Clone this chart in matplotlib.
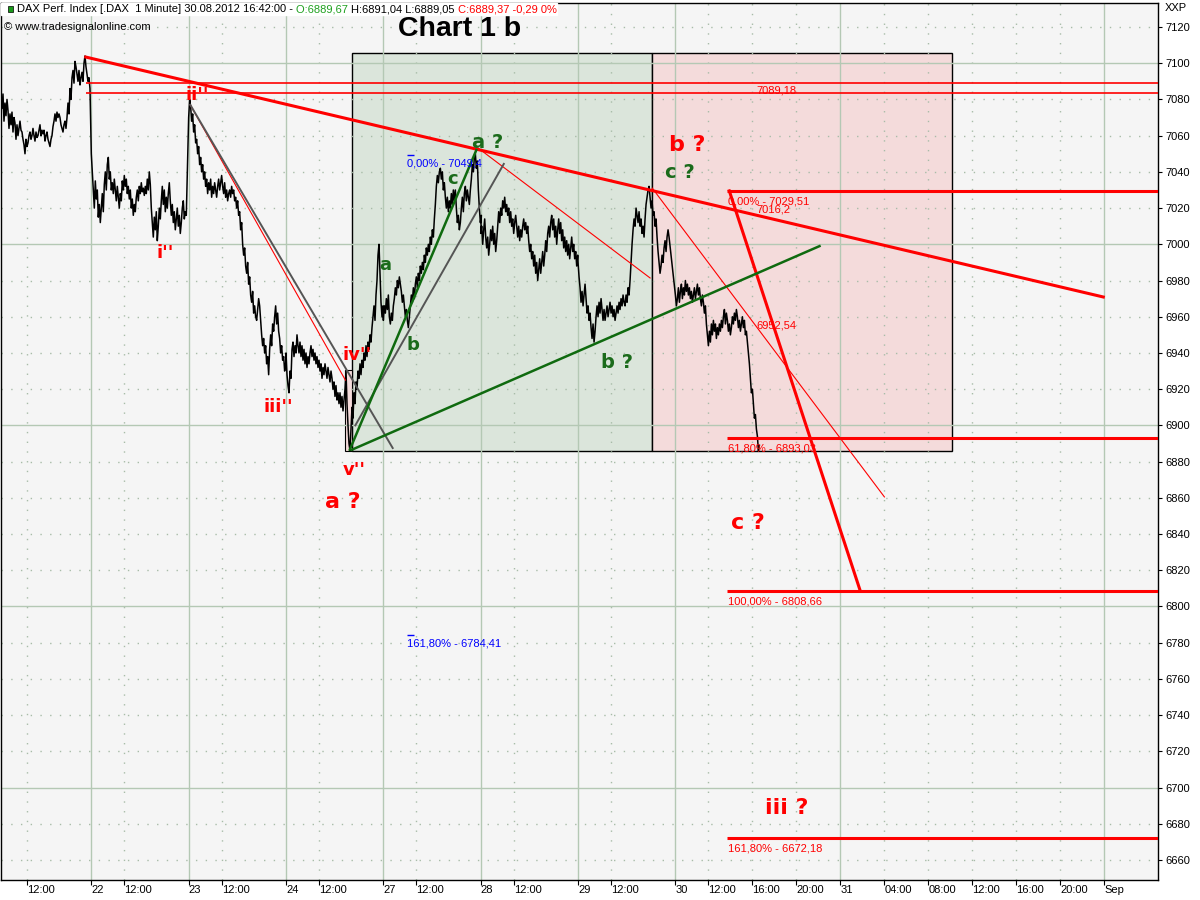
import numpy as np
import matplotlib
matplotlib.use('Agg')
import matplotlib.pyplot as plt
from matplotlib.patches import Rectangle

# ---- price data (DAX 1 minute, one value every ~5.5 min) ----
day_start = [0.09, 8.3, 17.15, 26.0, 34.85, 43.7, 52.55, 61.4]   # session start (chart hours)
step = 1 / 11.0

day21 = [7082, 7075, 7083, 7068, 7078, 7071, 7080, 7074, 7064, 7072,
         7066, 7073, 7062, 7070, 7067, 7058, 7066, 7060, 7064, 7068,
         7063, 7062, 7058, 7055, 7050, 7058, 7054, 7056, 7060, 7062,
         7058, 7060, 7064, 7060, 7057, 7062, 7059, 7060, 7063, 7066,
         7060, 7063, 7061, 7063, 7057, 7060, 7062, 7058, 7056, 7054,
         7058, 7060, 7065, 7068, 7072, 7068, 7073, 7070, 7072, 7070,
         7066, 7064, 7062, 7066, 7068, 7064, 7070, 7078, 7072, 7086,
         7080, 7092, 7096, 7089, 7101, 7098, 7094, 7090, 7096, 7088,
         7092, 7095, 7090, 7100, 7104, 7098, 7094, 7090, 7092, 7086]
day22 = [7050, 7040, 7030, 7020, 7035, 7025, 7030, 7015, 7022, 7012,
         7020, 7028, 7018, 7033, 7040, 7030, 7044, 7048, 7036, 7040,
         7030, 7034, 7028, 7036, 7030, 7024, 7032, 7026, 7020, 7028,
         7024, 7035, 7030, 7038, 7032, 7036, 7028, 7032, 7025, 7030,
         7020, 7025, 7016, 7022, 7018, 7026, 7030, 7024, 7032, 7028,
         7034, 7029, 7031, 7027, 7032, 7028, 7036, 7030, 7040, 7033,
         7020, 7012, 7004, 7015, 7008, 7018, 7002, 7010, 7020, 7014,
         7024, 7032, 7022, 7030, 7018, 7026, 7020, 7028, 7034, 7024,
         7016, 7022, 7012, 7018, 7008, 7014, 7020, 7010, 7016, 7006,
         7012, 7020, 7024, 7014, 7018, 7016]
day23 = [7070, 7080, 7076, 7068, 7072, 7062, 7066, 7056, 7058, 7050,
         7054, 7044, 7048, 7040, 7044, 7036, 7040, 7032, 7036, 7028,
         7034, 7030, 7036, 7026, 7032, 7028, 7034, 7030, 7026, 7032,
         7036, 7030, 7034, 7038, 7032, 7028, 7034, 7026, 7030, 7024,
         7028, 7030, 7026, 7032, 7028, 7030, 7024, 7026, 7020, 7024,
         7016, 7018, 7008, 7012, 7000, 6994, 6998, 6988, 6984, 6990,
         6978, 6982, 6972, 6968, 6974, 6962, 6966, 6960, 6958, 6964,
         6970, 6966, 6958, 6950, 6944, 6948, 6940, 6944, 6934, 6938,
         6928, 6942, 6950, 6944, 6956, 6952, 6960, 6966, 6956, 6962,
         6952, 6948, 6940, 6944, 6936, 6938, 6930, 6934]
day24 = [6940, 6928, 6922, 6918, 6930, 6926, 6942, 6946, 6938, 6944,
         6940, 6950, 6944, 6940, 6946, 6938, 6944, 6936, 6942, 6934,
         6940, 6932, 6938, 6934, 6940, 6944, 6938, 6942, 6936, 6940,
         6934, 6938, 6932, 6936, 6930, 6934, 6926, 6932, 6928, 6934,
         6930, 6926, 6932, 6928, 6924, 6930, 6926, 6920, 6924, 6916,
         6922, 6914, 6918, 6912, 6918, 6910, 6916, 6908, 6914, 6920,
         6930, 6912, 6900, 6890, 6886, 6898, 6910, 6904, 6918, 6912,
         6924, 6920, 6930, 6926, 6934, 6928, 6936, 6932, 6940, 6936,
         6944, 6938, 6946, 6942, 6950, 6946, 6954, 6960, 6966, 6958,
         6972, 6980, 6994, 7000, 6984, 6968, 6960, 6966]
day27 = [6958, 6966, 6962, 6970, 6964, 6972, 6960, 6956, 6962, 6958,
         6966, 6970, 6976, 6972, 6980, 6976, 6982, 6978, 6974, 6968,
         6972, 6966, 6960, 6964, 6958, 6954, 6960, 6966, 6972, 6968,
         6976, 6970, 6978, 6982, 6976, 6984, 6980, 6988, 6984, 6990,
         6986, 6994, 6990, 6998, 6994, 7000, 6996, 7004, 7000, 7008,
         7004, 7014, 7022, 7032, 7038, 7034, 7040, 7042, 7036, 7040,
         7030, 7034, 7026, 7020, 7026, 7018, 7024, 7020, 7028, 7022,
         7030, 7024, 7030, 7020, 7012, 7016, 7008, 7012, 7020, 7026,
         7018, 7028, 7032, 7024, 7030, 7026, 7022, 7030, 7036, 7044,
         7040, 7048, 7050, 7042, 7046, 7030, 7020, 7012, 7016]
day28 = [7006, 7010, 7000, 7008, 7014, 7004, 6998, 7004, 6994, 7000,
         7008, 7002, 7010, 7000, 7006, 6996, 7002, 7010, 7018, 7012,
         7020, 7016, 7024, 7020, 7026, 7018, 7022, 7016, 7020, 7012,
         7018, 7010, 7014, 7006, 7012, 7016, 7010, 7004, 7010, 7002,
         7008, 7004, 7010, 7014, 7008, 7012, 7006, 7010, 7002, 6996,
         7000, 6992, 6996, 6988, 6994, 6984, 6990, 6980, 6986, 6992,
         6984, 6990, 6996, 6988, 6994, 7002, 6996, 7006, 7010, 7004,
         7012, 7016, 7008, 7014, 7004, 7010, 7000, 7008, 7014, 7006,
         7012, 7002, 7008, 6998, 7004, 6996, 7002, 6994, 7000, 6992,
         6998, 7004, 6996, 7000, 6992, 6996, 6988, 6994]
day29 = [6990, 6982, 6976, 6968, 6974, 6966, 6972, 6978, 6970, 6962,
         6966, 6958, 6962, 6954, 6948, 6956, 6946, 6952, 6960, 6966,
         6960, 6968, 6962, 6970, 6964, 6958, 6964, 6958, 6962, 6966,
         6960, 6964, 6968, 6962, 6966, 6960, 6964, 6958, 6962, 6966,
         6962, 6968, 6964, 6970, 6966, 6972, 6968, 6966, 6972, 6968,
         6976, 6972, 6980, 6990, 7000, 7008, 7014, 7010, 7020, 7016,
         7012, 7018, 7010, 7014, 7006, 7010, 7004, 7014, 7022, 7026,
         7030, 7032, 7026, 7020, 7024, 7016, 7018, 7010, 7014, 7004,
         6996, 6990, 6984, 6988, 6994, 6990, 6998, 7002, 6996, 7004,
         7008, 7004]
day30 = [6972, 6966, 6970, 6976, 6968, 6974, 6978, 6970, 6976, 6972,
         6980, 6974, 6978, 6972, 6976, 6970, 6974, 6968, 6972, 6976,
         6970, 6974, 6978, 6972, 6976, 6970, 6966, 6972, 6968, 6962,
         6966, 6956, 6950, 6944, 6952, 6946, 6956, 6950, 6958, 6952,
         6956, 6948, 6954, 6950, 6956, 6952, 6958, 6954, 6960, 6964,
         6956, 6962, 6958, 6952, 6956, 6950, 6954, 6960, 6956, 6962,
         6958, 6964, 6960, 6954, 6958, 6952, 6956, 6960, 6954, 6958,
         6950, 6952, 6946, 6940, 6934, 6926, 6918, 6920, 6912, 6904,
         6906, 6898, 6894, 6886, 6889]
days = [day21, day22, day23, day24, day27, day28, day29, day30]

# ---- axis ticks ----
xtick_pos = [2.45, 8.3, 11.3, 17.15, 20.15, 26.0, 29.0, 34.85, 37.85, 43.7, 46.7,
             52.55, 55.55, 61.4, 64.4, 68.4, 72.4, 76.4, 80.4, 84.4, 88.4, 92.4, 96.4, 100.4]
xtick_lab = ['12:00', '22', '12:00', '23', '12:00', '24', '12:00', '27', '12:00', '28', '12:00',
             '29', '12:00', '30', '12:00', '16:00', '20:00', '31', '04:00', '08:00', '12:00',
             '16:00', '20:00', 'Sep']
yticks = np.arange(6660, 7121, 20)

# ---- analysis levels / drawings (time in chart hours, price) ----
fib_red = [7029.51, 6893.03, 6808.66, 6672.18]
fib_red_txt = ['0,00% - 7029,51', '61,80% - 6893,03', '100,00% - 6808,66', '161,80% - 6672,18']
fib_blue = [7049.4, 6784.41]
fib_blue_txt = ['0,00% - 7049,4', '161,80% - 6784,41']
top_levels = [7089.18, 7083.8]
trend_main = ([7.8, 100.3], [7103.4, 6970.9])
red_steep = ([66.3, 78.2], [7029.5, 6808.7])
red_thin = [([59.3, 80.4], [7031, 6860.5]), ([43.5, 59.1], [7053, 6981.4]),
            ([17.3, 31.4], [7077, 6925])]
gray_lines = [([17.3, 35.7], [7077, 6887.5]), ([32.3, 45.8], [6900, 7044.4])]
green_lines = [([31.8, 43.3], [6886.6, 7052]), ([32.0, 74.5], [6886.6, 6999])]

red_labels = [("ii''", 17.9, 7082.5, 13), ("i''", 15.0, 6995.2, 13), ("iii''", 25.3, 6910, 13),
              ("iv''", 32.5, 6938.9, 13), ("v''", 32.2, 6875.4, 13), ("a ?", 31.2, 6857.7, 16),
              ("b ?", 62.5, 7054.8, 16), ("c ?", 68.0, 6846.0, 16), ("iii ?", 71.5, 6688.7, 16)]
green_labels = [("a ?", 44.3, 7056, 14), ("c", 41.1, 7036.2, 13), ("a", 35.0, 6988.6, 13),
                ("b", 37.5, 6944.4, 13), ("b ?", 56.1, 6935, 14), ("c ?", 61.8, 7039.4, 14)]

RED = '#ff0000'
GREEN = '#1b6b1b'
SMALL = dict(family='Liberation Sans', fontsize=8)

fig = plt.figure(figsize=(12, 9), dpi=100, facecolor='white')
ax = fig.add_axes([1 / 1200, 20 / 900, 1157 / 1200, 877 / 900])
ax.set_facecolor('#f5f5f5')
ax.set_xlim(1 / 11, 1158 / 11)
ax.set_ylim(6648.96, 7133.25)

# grid
for x, lab in zip(xtick_pos, xtick_lab):
    if ':' in lab:
        ax.axvline(x, color='#a8bca8', lw=1, ls=(0, (1, 6)), zorder=1)
    else:
        ax.axvline(x, color='#b4c8b4', lw=1, zorder=1)
for y in yticks:
    if y % 100 == 0:
        ax.axhline(y, color='#b4c8b4', lw=1, zorder=1)
    else:
        ax.axhline(y, color='#a8bca8', lw=1, ls=(0, (1, 6)), zorder=1)

# boxes
ax.add_patch(Rectangle((32.0, 6885.9), 27.27, 219.7, facecolor='#dbe5db', edgecolor='black', lw=1, zorder=0.5))
ax.add_patch(Rectangle((59.27, 6885.9), 27.23, 219.7, facecolor='#f4dbdb', edgecolor='black', lw=1, zorder=0.5))
ax.add_patch(Rectangle((31.4, 6886), 0.6, 44.6, facecolor='#f4dbdb', edgecolor='black', lw=0.8, zorder=0.6))

# price line
xs = np.concatenate([s + np.arange(len(d)) * step for s, d in zip(day_start, days)])
ps = np.concatenate([np.array(d, dtype=float) for d in days])
ax.plot(xs, ps, color='black', lw=1.1, zorder=3)

# drawings
xmax = ax.get_xlim()[1]
ax.plot(*trend_main, color=RED, lw=2.2, zorder=4)
ax.hlines(top_levels, 7.8, xmax, color=RED, lw=1.2, zorder=4)
ax.text(68.8, 7085.0, '7089,18', color=RED, va='center', ha='left', zorder=5, **SMALL)
ax.hlines(fib_red, 66.1, xmax, color=RED, lw=2.2, zorder=4)
for lev, txt in zip(fib_red, fib_red_txt):
    ax.text(66.2, lev - 5.8, txt, color=RED, va='center', ha='left', zorder=5, **SMALL)
ax.text(68.8, 7019.0, '7016,2', color=RED, va='center', ha='left', zorder=5, **SMALL)
ax.text(68.8, 6955.4, '6952,54', color=RED, va='center', ha='left', zorder=5, **SMALL)
ax.plot(*red_steep, color=RED, lw=2.2, zorder=4)
for lx, ly in red_thin:
    ax.plot(lx, ly, color=RED, lw=0.8, zorder=4)
for lx, ly in gray_lines:
    ax.plot(lx, ly, color='#555555', lw=1.4, zorder=4)
for lx, ly in green_lines:
    ax.plot(lx, ly, color='#0f6a0f', lw=1.8, zorder=4)
ax.hlines(fib_blue, 37.0, 37.6, color='blue', lw=1, zorder=4)
for lev, txt in zip(fib_blue, fib_blue_txt):
    ax.text(37.0, lev - 5.0, txt, color='blue', va='center', ha='left', zorder=5, **SMALL)

for txt, x, y, fs in red_labels:
    ax.text(x, y, txt, color=RED, fontsize=fs, fontweight='bold', ha='center', va='center', zorder=6)
for txt, x, y, fs in green_labels:
    ax.text(x, y, txt, color=GREEN, fontsize=fs, fontweight='bold', ha='center', va='center', zorder=6)

# axes / ticks
for sp in ax.spines.values():
    sp.set_color('black')
    sp.set_linewidth(1)
ax.yaxis.tick_right()
ax.set_yticks(yticks)
ax.set_yticklabels([str(v) for v in yticks], **SMALL)
ax.tick_params(axis='y', direction='out', length=3, pad=2, colors='black')
ax.set_xticks(xtick_pos)
ax.set_xticklabels(xtick_lab, **SMALL)
ax.tick_params(axis='x', direction='out', length=3.5, pad=0, colors='black')
for lbl in ax.get_xticklabels():
    lbl.set_ha('left')

fig.text(1165 / 1200, 1 - 8 / 900, 'XXP', ha='left', va='center', **SMALL)
fig.text(460 / 1200, 1 - 29 / 900, 'Chart 1 b', ha='center', va='center',
         family='Liberation Sans', fontsize=20.5, fontweight='bold', color='black')

# header line with coloured parts
fig.patches.append(Rectangle((1 / 1200, 1 - 15 / 900), 556 / 1200, 12 / 900, color='white',
                             transform=fig.transFigure, zorder=5))
fig.patches.append(Rectangle((8 / 1200, 1 - 12 / 900), 5 / 1200, 6 / 900, facecolor='#1a9a1a',
                             edgecolor='black', lw=0.5, transform=fig.transFigure, zorder=6))
header_parts = [('DAX Perf. Index [.DAX  1 Minute] 30.08.2012 16:42:00 - ', 'black'),
                ('O:6889,67 ', '#1fa01f'), ('H:6891,04 L:6889,05 ', 'black'),
                ('C:6889,37 -0,29 0%', RED)]
renderer = fig.canvas.get_renderer()
hx = 17 / 1200
for s, c in header_parts:
    t = fig.text(hx, 1 - 9 / 900, s, color=c, ha='left', va='center', zorder=7, **SMALL)
    hx = t.get_window_extent(renderer).x1 / 1200
fig.text(4 / 1200, 1 - 27 / 900, '\u00a9 www.tradesignalonline.com', ha='left', va='center', zorder=7, **SMALL)

fig.savefig('out.png', dpi=100, facecolor='white')
